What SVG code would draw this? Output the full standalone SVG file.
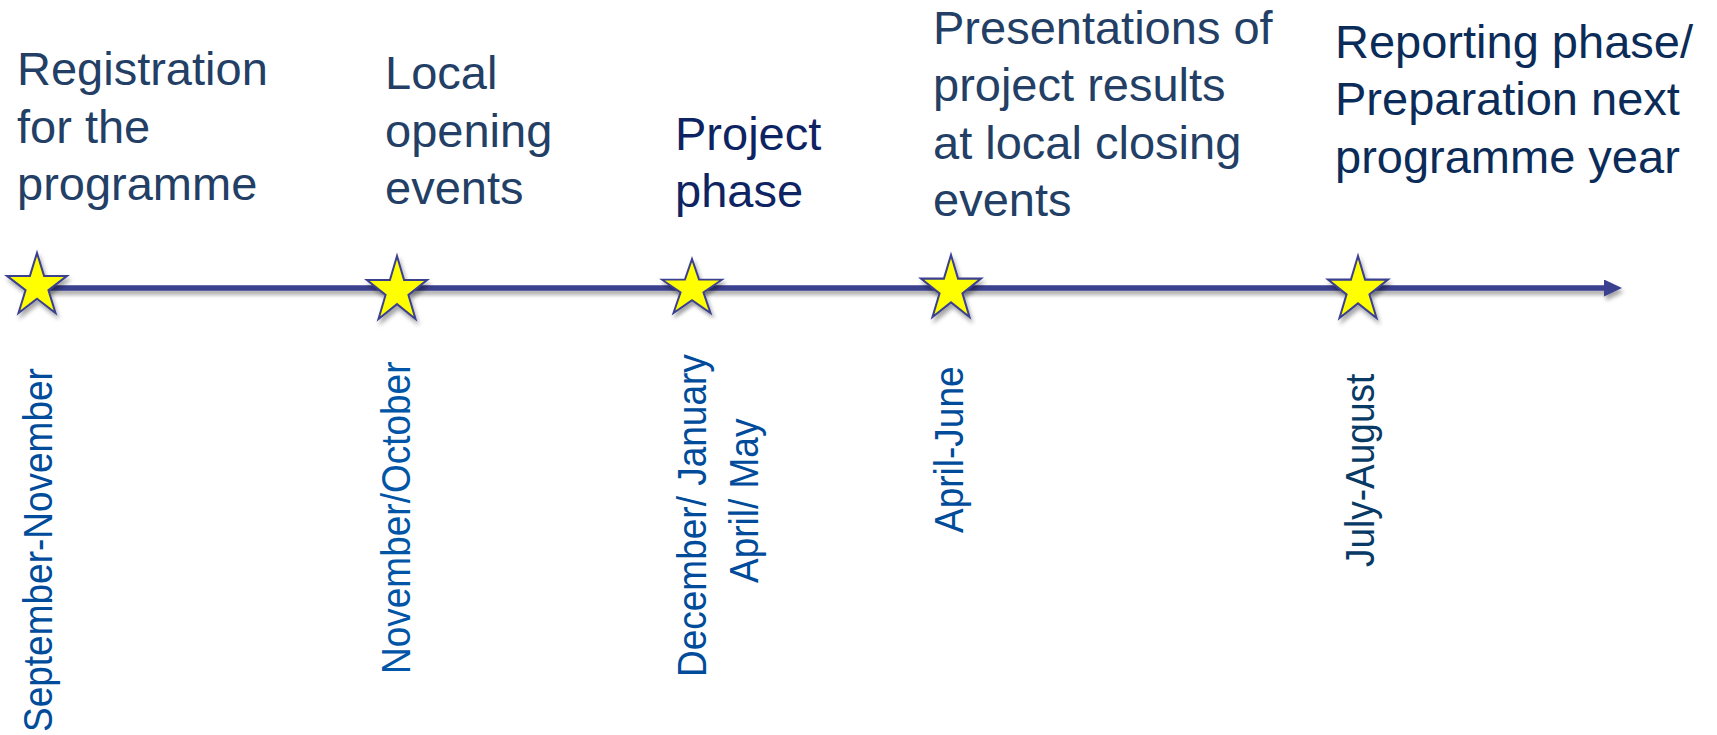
<svg xmlns="http://www.w3.org/2000/svg" xmlns:xlink="http://www.w3.org/1999/xlink" width="1717" height="735" viewBox="0 0 1717 735">
  <style>
    text { font-family: "Liberation Sans", Arial, sans-serif; }
    .head { font-size: 47px; fill: #233F66; }
    .head2 { font-size: 47px; fill: #0E2462; }
    .head3 { font-size: 47px; fill: #0B2C58; }
    .date { font-size: 37px; fill: #004C9B; }
    .axis { stroke: #3B3F8F; stroke-width: 5.5; fill: none; }
    .star { fill: #FFFF00; stroke: #3B3F8F; stroke-width: 2; stroke-linejoin: miter; }
  </style>
  <defs>
    <filter id="shadow" filterUnits="userSpaceOnUse" x="0" y="0" width="1717" height="735">
      <feDropShadow dx="2" dy="4" stdDeviation="2" flood-color="#000000" flood-opacity="0.35"/>
    </filter>
    <filter id="starShadow" x="-30%" y="-30%" width="160%" height="160%">
      <feDropShadow dx="2" dy="4" stdDeviation="2" flood-color="#000000" flood-opacity="0.35"/>
    </filter>
    <marker id="arrow" markerUnits="userSpaceOnUse" markerWidth="18" markerHeight="17" refX="2" refY="8.5" orient="auto">
      <path d="M0,0 L18,8.5 L0,17 Z" fill="#3B3F8F"/>
    </marker>
    <path id="star" d="M0,0 L7.07,22.9 L30,22.9 L11.43,37.1 L18.5,60 L0,45.8 L-18.5,60 L-11.43,37.1 L-30,22.9 L-7.07,22.9 Z"/>
  </defs>
  <rect width="1717" height="735" fill="#FFFFFF"/>

  <g id="connectors" filter="url(#shadow)">
    <path class="axis" d="M37,288 L1606,288" marker-end="url(#arrow)"/>
  </g>

  <g id="node-registration">
    <use xlink:href="#star" class="star" filter="url(#starShadow)" transform="translate(37,253) scale(1,1)"/>
    <text class="head" x="17" y="85">Registration</text>
    <text class="head" x="17" y="142.5">for the</text>
    <text class="head" x="17" y="200">programme</text>
    <text class="date" transform="translate(52,732) rotate(-90) scale(1,1.08)">September-November</text>
  </g>

  <g id="node-opening">
    <use xlink:href="#star" class="star" filter="url(#starShadow)" transform="translate(397,256) scale(1,1.05)"/>
    <text class="head" x="385" y="89">Local</text>
    <text class="head" x="385" y="146.5">opening</text>
    <text class="head" x="385" y="204">events</text>
    <text class="date" style="fill:#0055A6" transform="translate(410,674) rotate(-90) scale(1,1.08)">November/October</text>
  </g>

  <g id="node-project">
    <use xlink:href="#star" class="star" filter="url(#starShadow)" transform="translate(692,259) scale(1,0.9)"/>
    <text class="head2" x="675" y="149.5">Project</text>
    <text class="head2" x="675" y="206.5">phase</text>
    <text class="date" transform="translate(706,677) rotate(-90) scale(1,1.08)">December/ January</text>
    <text class="date" transform="translate(758,583) rotate(-90) scale(1,1.08)">April/ May</text>
  </g>

  <g id="node-presentations">
    <use xlink:href="#star" class="star" filter="url(#starShadow)" transform="translate(951,255) scale(1,1.033)"/>
    <text class="head" x="933" y="43.5">Presentations of</text>
    <text class="head" x="933" y="101">project results</text>
    <text class="head" x="933" y="158.5">at local closing</text>
    <text class="head" x="933" y="216">events</text>
    <text class="date" transform="translate(963,533) rotate(-90) scale(1,1.08)">April-June</text>
  </g>

  <g id="node-reporting">
    <use xlink:href="#star" class="star" filter="url(#starShadow)" transform="translate(1358,256) scale(1,1.033)"/>
    <text class="head3" x="1335" y="57.5">Reporting phase/</text>
    <text class="head3" x="1335" y="115">Preparation next</text>
    <text class="head3" x="1335" y="172.5">programme year</text>
    <text class="date" style="fill:#083A66" transform="translate(1374,567) rotate(-90) scale(1,1.08)">July-August</text>
  </g>
</svg>
